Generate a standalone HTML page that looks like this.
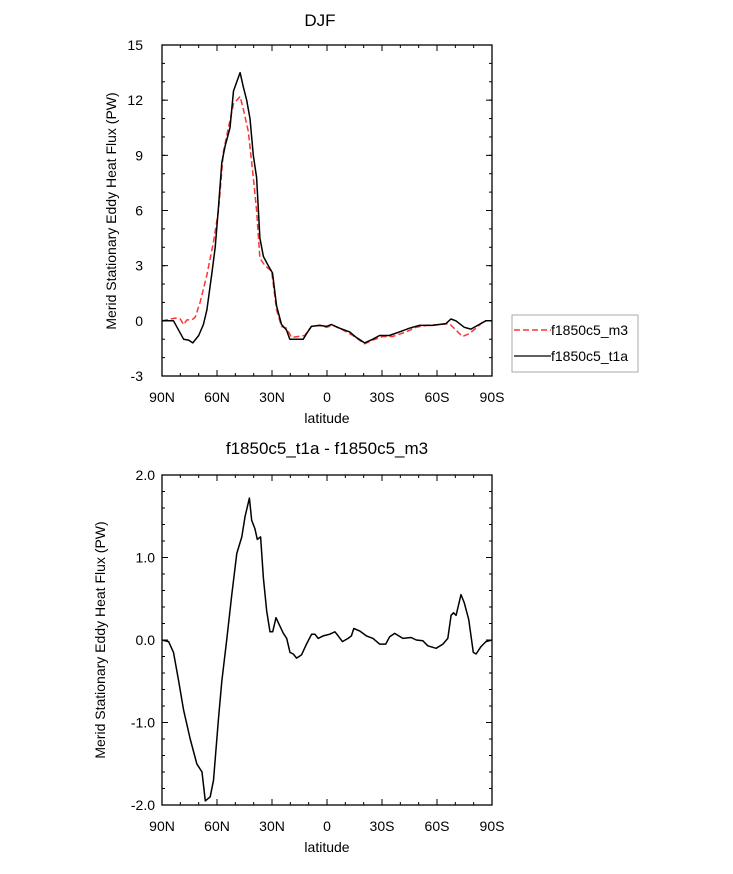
<!DOCTYPE html>
<html><head><meta charset="utf-8"><style>
body{margin:0;background:#fff;}
svg text{font-family:"Liberation Sans",sans-serif;fill:#000;}
</style></head><body>
<svg id="chart" width="733" height="869" xmlns="http://www.w3.org/2000/svg">
<text x="320" y="26" font-size="17" text-anchor="middle">DJF</text>
<text x="327" y="454" font-size="17" text-anchor="middle">f1850c5_t1a - f1850c5_m3</text>
<g id="topPanel"></g>
<g id="botPanel"></g>
<g>
<rect x="512" y="315" width="126" height="57" fill="none" stroke="#aaa" stroke-width="1"/>
<line x1="514" y1="330" x2="551" y2="330" stroke="#f33" stroke-width="1.5" stroke-dasharray="6,3"/>
<text x="551" y="335" font-size="14">f1850c5_m3</text>
<line x1="514" y1="356" x2="551" y2="356" stroke="#000" stroke-width="1.3"/>
<text x="551" y="361" font-size="14">f1850c5_t1a</text>
</g>
</svg>
<script>
const xTicks=[90,60,30,0,-30,-60,-90];
const xTickLabels=["90N","60N","30N","0","30S","60S","90S"];
const topYTicks=[15,12,9,6,3,0,-3];
const topYLabels=["15","12","9","6","3","0","-3"];
const botYTicks=[2,1,0,-1,-2];
const botYLabels=["2.0","1.0","0.0","-1.0","-2.0"];
const t1aLat=[90,83.7,78.2,75.5,73.2,70,67.4,65.5,62.8,61,59.2,57.4,55.6,52.9,51,49.2,47.4,45.6,43.8,42,40.2,38.4,36.6,34.7,32,29.7,27.5,24.8,22.1,20.3,13,11.2,8.5,4,0.3,-2.4,-6.9,-12.4,-16,-20.5,-25,-28.7,-34,-39.5,-45,-50.4,-57.6,-64.9,-67.6,-70.3,-74.9,-78.5,-83,-86.6,-90];
const t1aVal=[0,0,-1.0,-1.05,-1.2,-0.8,-0.2,0.6,2.6,4.0,6.2,8.6,9.5,10.5,12.5,13.0,13.5,12.7,12.0,11.0,9.0,7.8,4.5,3.5,3.0,2.6,0.8,-0.2,-0.5,-1.0,-1.0,-0.7,-0.3,-0.25,-0.3,-0.2,-0.4,-0.6,-0.9,-1.2,-1.0,-0.8,-0.8,-0.6,-0.4,-0.25,-0.25,-0.15,0.1,0,-0.35,-0.45,-0.2,0,0];
const m3Lat=[90,82.8,80,78.2,76.4,73.7,71.9,69.2,65.5,61.9,59.2,56.5,53.8,51,49.2,47.4,45.6,42.9,40.2,38.4,36.6,33.8,30.2,27.5,24.8,22.1,19.3,15.7,12.1,8.5,4,0.3,-3.3,-8.7,-14.1,-20.5,-25,-30.4,-35.8,-43.2,-48.6,-54.1,-61.3,-66.7,-70.3,-73.9,-77.5,-81.2,-85.7,-90];
const m3Val=[0,0.15,0.1,-0.2,0.05,0.05,0.2,1.0,2.5,4.3,6.0,9.2,10.5,11.8,12.0,12.2,11.5,10.3,7.8,6.0,3.4,3.0,2.7,0.6,-0.3,-0.4,-0.9,-0.85,-0.8,-0.3,-0.25,-0.35,-0.25,-0.5,-0.8,-1.25,-1.05,-0.85,-0.85,-0.6,-0.35,-0.25,-0.2,-0.15,-0.5,-0.85,-0.7,-0.4,0,0];
const diffLat=[90,86.4,83.7,80.9,78.2,74.6,71,68.2,66.4,63.7,61.9,59.2,57.4,54.7,51.9,49.2,46.5,44.7,42.3,41.1,39.3,38,36.2,34.7,32.9,31.1,29.6,27.8,25.3,23.8,22,20.2,18.4,16.6,13.9,11.2,8.4,6.6,4.8,2.1,-1.5,-4.3,-6.1,-8.4,-11.5,-13.3,-14.6,-17.8,-21.5,-25.1,-28.7,-32,-34.2,-36.9,-41.4,-45.9,-48.7,-52.3,-55,-59.5,-63.2,-65.9,-67.7,-69,-70.4,-73.1,-74.9,-77.3,-79.8,-81.3,-84,-86.7,-90];
const diffVal=[0,-0.02,-0.15,-0.5,-0.85,-1.2,-1.5,-1.6,-1.95,-1.9,-1.7,-0.95,-0.5,0.0,0.55,1.05,1.25,1.5,1.72,1.45,1.35,1.22,1.25,0.75,0.35,0.1,0.1,0.27,0.15,0.08,0.02,-0.15,-0.17,-0.22,-0.18,-0.05,0.07,0.07,0.02,0.05,0.07,0.1,0.05,-0.02,0.02,0.05,0.14,0.11,0.05,0.02,-0.05,-0.05,0.04,0.08,0.02,0.03,0.0,-0.01,-0.07,-0.1,-0.05,0.02,0.3,0.33,0.3,0.55,0.45,0.25,-0.15,-0.17,-0.08,-0.02,0];
const NS="http://www.w3.org/2000/svg";
function mk(p,tag,at){const e=document.createElementNS(NS,tag);for(const k in at)e.setAttribute(k,at[k]);p.appendChild(e);return e;}
function panel(g,X0,X1,Y0,Y1,ymax,ymin,yt,yl,minorStep,ylabX){
  const xs=v=>X0+(90-v)/180*(X1-X0);
  const ys=v=>Y0+(ymax-v)/(ymax-ymin)*(Y1-Y0);
  const fr=mk(g,'rect',{x:X0,y:Y0,width:X1-X0,height:Y1-Y0,fill:'none',stroke:'#000','stroke-width':1.3});
  
  
  for(let v=90;v>=-90;v-=10){const x=xs(v);const L=(v%30==0)?6:3;
    mk(g,'line',{x1:x,y1:Y1,x2:x,y2:Y1-L,stroke:'#000','stroke-width':1});
    mk(g,'line',{x1:x,y1:Y0,x2:x,y2:Y0+L,stroke:'#000','stroke-width':1});}
  xTicks.forEach((v,i)=>{const t=mk(g,'text',{x:xs(v),y:Y1+26,'font-size':14,'text-anchor':'middle'});t.textContent=xTickLabels[i];
    
    });
  for(let v=ymin;v<=ymax+1e-9;v+=minorStep){const y=ys(v);
    mk(g,'line',{x1:X0,y1:y,x2:X0+3,y2:y,stroke:'#000','stroke-width':1});
    mk(g,'line',{x1:X1,y1:y,x2:X1-3,y2:y,stroke:'#000','stroke-width':1});}
  yt.forEach((v,i)=>{const y=ys(v);
    mk(g,'line',{x1:X0,y1:y,x2:X0+6,y2:y,stroke:'#000','stroke-width':1});
    mk(g,'line',{x1:X1,y1:y,x2:X1-6,y2:y,stroke:'#000','stroke-width':1});
    const t=mk(g,'text',{x:ylabX,y:y+5,'font-size':14,'text-anchor':'end'});t.textContent=yl[i];
    
    });
  const xl=mk(g,'text',{x:(X0+X1)/2,y:Y1+47,'font-size':14,'text-anchor':'middle'});xl.textContent='latitude';
  
  
  return {xs,ys};
}
function drawLine(g,ax,lat,val,color,dash,name){
  const n=Math.min(lat.length,val.length);
  let d='';
  for(let i=0;i<n;i++)d+=(i?'L':'M')+ax.xs(lat[i]).toFixed(1)+','+ax.ys(val[i]).toFixed(1);
  const p=mk(g,'path',{d:d,fill:'none',stroke:color,'stroke-width':1.5,'stroke-linejoin':'round'});
  if(dash)p.setAttribute('stroke-dasharray',dash);
  
  
}
const topG=document.getElementById('topPanel'),botG=document.getElementById('botPanel');
const a1=panel(topG,162,492,45,376,15,-3,topYTicks,topYLabels,1,143);
drawLine(topG,a1,m3Lat,m3Val,'#f33','6,3','series-m3');
drawLine(topG,a1,t1aLat,t1aVal,'#000',null,'series-t1a');
const yl1=mk(topG,'text',{x:0,y:0,'font-size':14,'text-anchor':'middle',transform:'translate(116,211) rotate(-90)'});
yl1.textContent='Merid Stationary Eddy Heat Flux (PW)';


const a2=panel(botG,162,492,475,805,2,-2,botYTicks,botYLabels,0.2,155);
drawLine(botG,a2,diffLat,diffVal,'#000',null,'series-diff');
const yl2=mk(botG,'text',{x:0,y:0,'font-size':14,'text-anchor':'middle',transform:'translate(105,640) rotate(-90)'});
yl2.textContent='Merid Stationary Eddy Heat Flux (PW)';


</script>
</body></html>
